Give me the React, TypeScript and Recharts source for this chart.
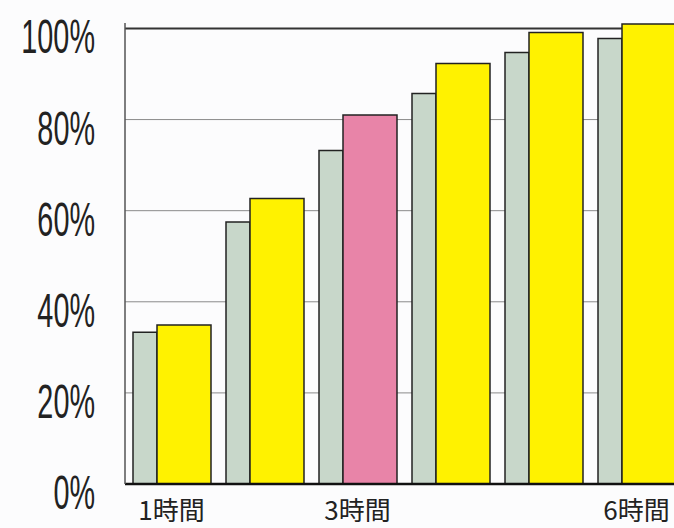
import React from "react";
import { BarChart, Bar, XAxis, YAxis, CartesianGrid, Cell } from "recharts";

// hours after start
const categories = ["1時間", "2時間", "3時間", "4時間", "5時間", "6時間"];
// grey-green series (behind)
const seriesA = [33.3, 57.5, 73.2, 85.7, 94.7, 97.8];
// yellow series (3時間 is drawn pink)
const seriesB = [34.9, 62.7, 81, 92.3, 99.1, 101];
const yTicks = [0, 20, 40, 60, 80, 100];
const shownLabels = ["1時間", "3時間", "6時間"];
const highlight = "3時間";

const data = categories.map((label, i) => ({
  label,
  a: seriesA[i],
  b: seriesB[i],
}));

const gridValues = yTicks.filter((v) => v > 0);
const TOP_MARGIN = 23;

// grid lines behind the bars; the top (100%) one, just under the plot top, is darker
const GridLine = (props: any) => {
  const { x1, x2, y1, y2 } = props;
  const top = y1 < TOP_MARGIN + 15;
  return (
    <line
      x1={x1}
      x2={x2}
      y1={y1}
      y2={y2}
      stroke={top ? "#333" : "#8a8a8a"}
      strokeWidth={top ? 2 : 1}
    />
  );
};

const YTick = (props: any) => {
  const { y, payload } = props;
  return (
    <g transform={`translate(95, ${y + 8}) scale(0.6, 1)`}>
      <text
        x={0}
        y={0}
        textAnchor="end"
        dominantBaseline="central"
        fontSize={48}
        fontFamily="'Liberation Sans', Arial, sans-serif"
        fill="#222"
      >
        {`${payload.value}%`}
      </text>
    </g>
  );
};

const XTick = (props: any) => {
  const { x, payload } = props;
  if (!shownLabels.includes(payload.value)) return null;
  return (
    <text
      x={x}
      y={508}
      textAnchor="middle"
      dominantBaseline="central"
      fontSize={26}
      fontFamily="'Noto Sans CJK JP', sans-serif"
      fill="#222"
    >
      {payload.value}
    </text>
  );
};

export default function App() {
  return (
    <div
      style={{
        position: "fixed",
        left: 0,
        top: 0,
        width: 674,
        height: 528,
        overflow: "hidden",
        background: "#fcfcfd",
      }}
    >
      <BarChart
        width={690}
        height={528}
        data={data}
        margin={{ top: TOP_MARGIN, right: 7, bottom: 0, left: 0 }}
        barGap={0}
      >
        <CartesianGrid
          vertical={false}
          horizontalValues={gridValues}
          horizontal={(p: any) => <GridLine {...p} />}
        />
        <XAxis
          dataKey="label"
          height={44}
          tickLine={false}
          axisLine={{ stroke: "#111", strokeWidth: 2.5 }}
          tick={<XTick />}
          interval={0}
        />
        <YAxis
          width={125}
          domain={[0, 101.2]}
          ticks={yTicks}
          tickLine={false}
          axisLine={{ stroke: "#555", strokeWidth: 1.5 }}
          tick={<YTick />}
        />
        <Bar
          dataKey="a"
          barSize={24}
          fill="#c8d7ca"
          stroke="#222"
          strokeWidth={1.5}
          isAnimationActive={false}
        />
        <Bar
          dataKey="b"
          barSize={54}
          fill="#fff200"
          stroke="#222"
          strokeWidth={1.5}
          isAnimationActive={false}
        >
          {data.map((d) => (
            <Cell
              key={d.label}
              fill={d.label === highlight ? "#e884a8" : "#fff200"}
            />
          ))}
        </Bar>
      </BarChart>
    </div>
  );
}
